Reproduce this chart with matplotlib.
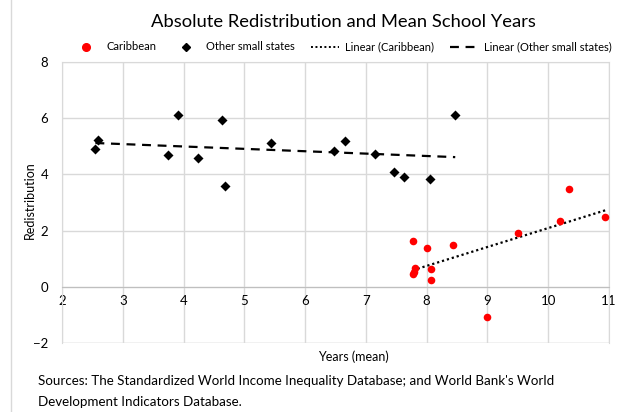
import numpy as np
import matplotlib
matplotlib.use("Agg")
import matplotlib.pyplot as plt
from matplotlib.lines import Line2D

plt.rcParams['font.family'] = ['Lato', 'DejaVu Sans']

# Caribbean: mean school years vs redistribution
carib_x = [7.77, 8.01, 8.43, 7.81, 7.79, 7.77, 8.07, 8.07, 9.50, 10.19, 10.34, 10.94, 9.00]
carib_y = [1.64, 1.38, 1.48, 0.66, 0.53, 0.45, 0.65, 0.25, 1.93, 2.33, 3.47, 2.50, -1.08]

# Other small states
other_x = [2.55, 2.59, 3.75, 3.91, 4.23, 4.64, 4.68, 5.44, 6.48, 6.65, 7.15, 7.47, 7.62, 8.05, 8.47]
other_y = [4.90, 5.23, 4.69, 6.13, 4.57, 5.92, 3.60, 5.12, 4.82, 5.19, 4.74, 4.09, 3.92, 3.85, 6.13]

x_ticks = [2, 3, 4, 5, 6, 7, 8, 9, 10, 11]
y_ticks = [-2, 0, 2, 4, 6, 8]

grid_col = "#d9d9d9"

fig = plt.figure(figsize=(6.21, 4.12), dpi=100)
ax = fig.add_axes([62/621, 1-343/412, (609-62)/621, (343-62)/412])

ax.scatter(carib_x, carib_y, s=30, color="#ff0000", marker="o", zorder=3, linewidths=0)
ax.scatter(other_x, other_y, s=26, color="black", marker="D", zorder=3, linewidths=0)

def trend(x, y):
    x = np.array(x); y = np.array(y)
    k, d = np.polyfit(x, y, 1)
    xs = np.array([x.min(), x.max()])
    return xs, k*xs + d

tx, ty = trend(carib_x, carib_y)
ax.plot(tx, ty, color="black", linestyle=(0, (1, 1.3)), linewidth=1.6, zorder=2)
tx, ty = trend(other_x, other_y)
ax.plot(tx, ty, color="black", linestyle=(0, (4, 3)), linewidth=1.6, zorder=2)

ax.set_xlim(2, 11)
ax.set_ylim(-2, 8)
ax.set_xticks(x_ticks)
ax.set_yticks(y_ticks)
ax.grid(True, color=grid_col, linewidth=1)
ax.set_axisbelow(True)
for s in ["top", "right", "left"]:
    ax.spines[s].set_color(grid_col)
ax.spines["bottom"].set_position(("data", 0))
ax.spines["bottom"].set_color("#bfbfbf")
ax.tick_params(length=0, labelsize=9.5, labelcolor="black")
ax.tick_params(axis="x", pad=6)
ax.tick_params(axis="y", pad=10)

# bottom frame of plot area
ax.axhline(-2, color=grid_col, linewidth=1, zorder=0)

fig.text(30/621, 1-200/412, "Redistribution", rotation=90, ha="center", va="center", fontsize=9)
fig.text(353/621, 1-357/412, "Years (mean)", ha="center", va="center", fontsize=9)
fig.text(343/621, 1-22/412, "Absolute Redistribution and Mean School Years",
         ha="center", va="center", fontsize=13.2)
fig.text(38/621, 1-381/412, "Sources: The Standardized World Income Inequality Database; and World Bank's World",
         ha="left", va="center", fontsize=9.6)
fig.text(38/621, 1-402/412, "Development Indicators Database.",
         ha="left", va="center", fontsize=9.6)

handles = [
    Line2D([], [], linestyle="none", marker="o", color="#ff0000", markersize=5.5),
    Line2D([], [], linestyle="none", marker="D", color="black", markersize=4.5),
    Line2D([], [], color="black", linestyle=(0, (1, 1.3)), linewidth=1.4),
    Line2D([], [], color="black", linestyle=(0, (4, 3)), linewidth=1.6),
]
labels = ["Caribbean", "Other small states", "Linear (Caribbean)", "Linear (Other small states)"]
fig.legend(handles, labels, loc="center", bbox_to_anchor=(342/621, 1-47/412), ncol=4,
           frameon=False, fontsize=8, handlelength=2.5, columnspacing=1.4, handletextpad=0.6)

# outer chart border fragment on the left
fig.add_artist(Line2D([11/621, 11/621], [0, 1], transform=fig.transFigure, color=grid_col, linewidth=1))

fig.savefig("out.png", dpi=100)
